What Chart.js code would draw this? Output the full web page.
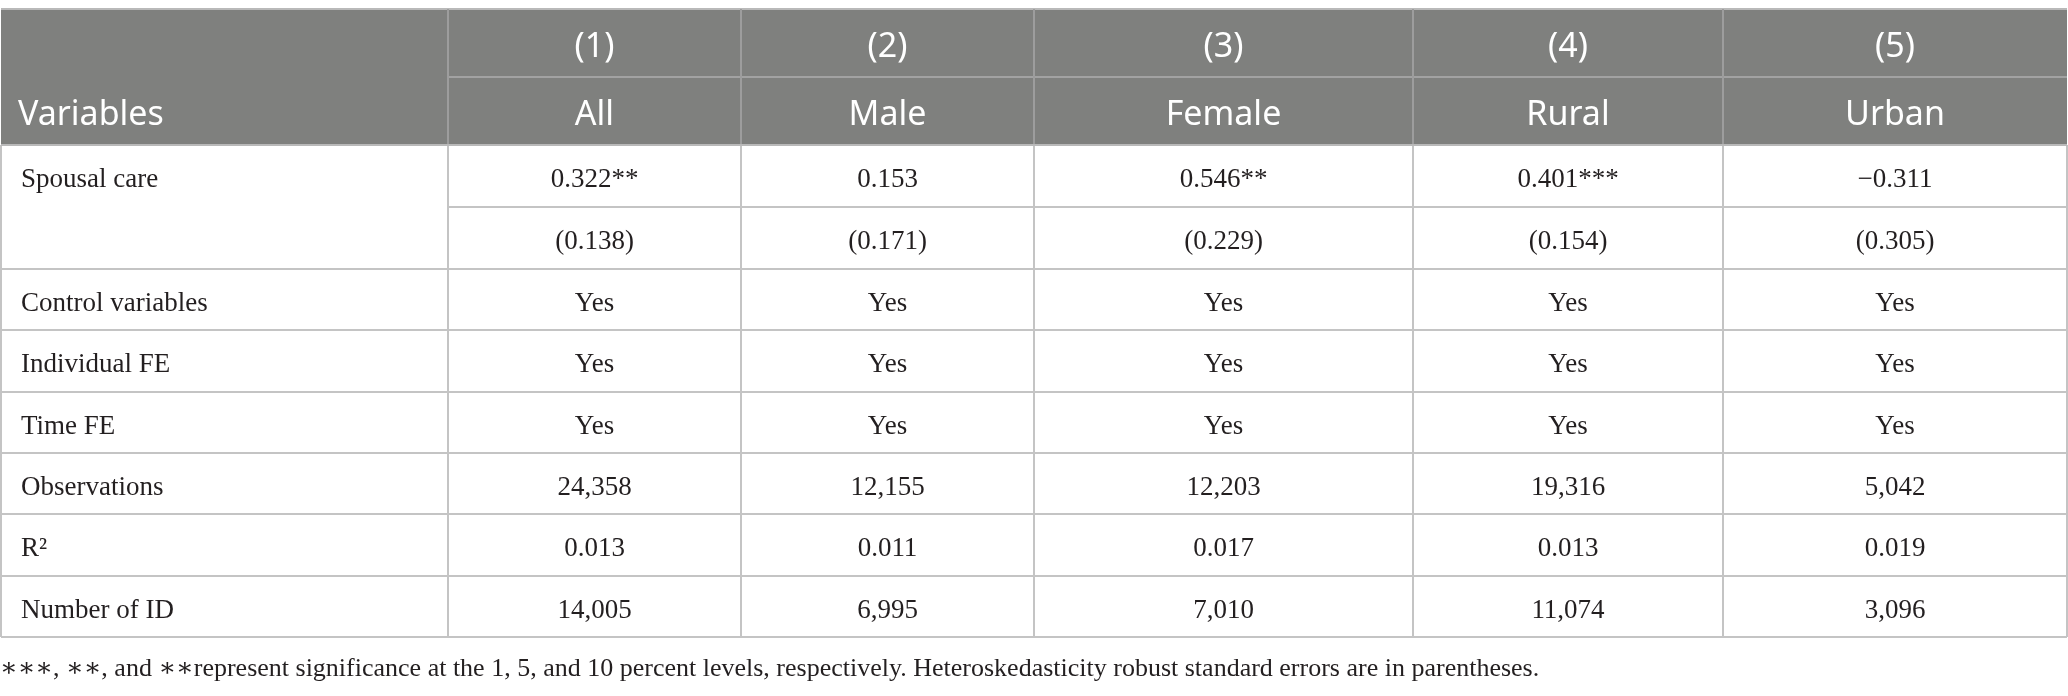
<!DOCTYPE html>
<html>
<head>
<meta charset="utf-8">
<script src="https://cdn.jsdelivr.net/npm/chart.js@4"></script>
<style>
  html, body { margin: 0; padding: 0; background: #fff; }
  #wrap { width: 2068px; height: 696px; position: relative; }
</style>
</head>
<body>
<div id="wrap"><canvas id="tbl"></canvas></div>
<script>
// Table content
const modelNumbers = ["(1)", "(2)", "(3)", "(4)", "(5)"];
const sampleNames = ["All", "Male", "Female", "Rural", "Urban"];
const rowLabels = ["Spousal care", "", "Control variables", "Individual FE", "Time FE", "Observations", "R²", "Number of ID"];
const coefValues = ["0.322**", "0.153", "0.546**", "0.401***", "−0.311"];
const stdErrors = ["(0.138)", "(0.171)", "(0.229)", "(0.154)", "(0.305)"];
const controlVars = ["Yes", "Yes", "Yes", "Yes", "Yes"];
const individualFE = ["Yes", "Yes", "Yes", "Yes", "Yes"];
const timeFE = ["Yes", "Yes", "Yes", "Yes", "Yes"];
const observations = ["24,358", "12,155", "12,203", "19,316", "5,042"];
const rSquared = ["0.013", "0.011", "0.017", "0.013", "0.019"];
const numberOfID = ["14,005", "6,995", "7,010", "11,074", "3,096"];
const footnote = "∗∗∗, ∗∗, and ∗∗represent significance at the 1, 5, and 10 percent levels, respectively. Heteroskedasticity robust standard errors are in parentheses.";

// Layout (scale units)
const colEdges = [1, 448, 741, 1034, 1413, 1723, 2067];
const rowEdges = [9, 77, 145, 207, 269, 330, 392, 453, 514, 576, 637];
const bodyRows = [coefValues, stdErrors, controlVars, individualFE, timeFE, observations, rSquared, numberOfID];

const colMid = i => (colEdges[i] + colEdges[i + 1]) / 2;
const rowMid = r => (rowEdges[r] + rowEdges[r + 1]) / 2;

const SERIF = '"Liberation Serif", "DejaVu Serif", serif';
const SANS = '"Noto Sans", "Open Sans", sans-serif';

// one dataset per body row, points at the cell centres
const datasets = bodyRows.map((vals, k) => ({
    data: vals.map((v, i) => ({ x: colMid(i + 1), y: rowMid(k + 2) })),
    texts: vals,
    pointRadius: 0,
    showLine: false
}));

function hLine(ctx, sx, sy, x0, x1, y, color, w) {
    ctx.strokeStyle = color;
    ctx.lineWidth = w;
    ctx.beginPath();
    ctx.moveTo(sx.getPixelForValue(x0), sy.getPixelForValue(y));
    ctx.lineTo(sx.getPixelForValue(x1), sy.getPixelForValue(y));
    ctx.stroke();
}

function vLine(ctx, sx, sy, x, y0, y1, color, w) {
    ctx.strokeStyle = color;
    ctx.lineWidth = w;
    ctx.beginPath();
    ctx.moveTo(sx.getPixelForValue(x), sy.getPixelForValue(y0));
    ctx.lineTo(sx.getPixelForValue(x), sy.getPixelForValue(y1));
    ctx.stroke();
}

const tablePlugin = {
    id: "tablePlugin",
    beforeDatasetsDraw(chart) {
        const { ctx, scales: { x, y } } = chart;
        ctx.save();
        // header background
        const hx0 = x.getPixelForValue(colEdges[0]), hx1 = x.getPixelForValue(colEdges[6]);
        const hy0 = y.getPixelForValue(rowEdges[0]), hy1 = y.getPixelForValue(rowEdges[2]);
        ctx.fillStyle = "#7f807e";
        ctx.fillRect(hx0, hy0, hx1 - hx0, hy1 - hy0);

        // header lines
        hLine(ctx, x, y, colEdges[0], colEdges[6], rowEdges[0], "#b9b9b9", 2);
        hLine(ctx, x, y, colEdges[1], colEdges[6], rowEdges[1], "#a2a2a2", 2);
        for (let i = 1; i < 6; i++) vLine(ctx, x, y, colEdges[i], rowEdges[0], rowEdges[2], "#9d9d9d", 2);

        // body lines
        hLine(ctx, x, y, colEdges[1], colEdges[6], rowEdges[3], "#c4c4c4", 2);
        for (let r = 4; r < rowEdges.length; r++) hLine(ctx, x, y, colEdges[0], colEdges[6], rowEdges[r], "#c4c4c4", 2);
        for (let i = 0; i < colEdges.length; i++) vLine(ctx, x, y, colEdges[i], rowEdges[2], rowEdges[10], "#c4c4c4", 2);
        hLine(ctx, x, y, colEdges[0], colEdges[6], rowEdges[2], "#b9b9b9", 2);

        // header text
        ctx.fillStyle = "#ffffff";
        ctx.font = "34px " + SANS;
        ctx.textBaseline = "alphabetic";
        ctx.textAlign = "center";
        modelNumbers.forEach((t, i) => ctx.fillText(t, x.getPixelForValue(colMid(i + 1)), y.getPixelForValue(rowMid(0) + 14)));
        sampleNames.forEach((t, i) => ctx.fillText(t, x.getPixelForValue(colMid(i + 1)), y.getPixelForValue(rowMid(1) + 14)));
        ctx.textAlign = "left";
        ctx.fillText("Variables", x.getPixelForValue(18), y.getPixelForValue(rowMid(1) + 14));

        // row labels
        ctx.fillStyle = "#231f20";
        ctx.font = "27px " + SERIF;
        rowLabels.forEach((t, k) => {
            if (t) ctx.fillText(t, x.getPixelForValue(21), y.getPixelForValue(rowMid(k + 2) + 11));
        });

        // footnote
        ctx.font = "26px " + SERIF;
        ctx.fillText(footnote, x.getPixelForValue(0), y.getPixelForValue(676));
        ctx.restore();
    },
    afterDatasetsDraw(chart) {
        const { ctx } = chart;
        ctx.save();
        ctx.fillStyle = "#231f20";
        ctx.font = "27px " + SERIF;
        ctx.textAlign = "center";
        ctx.textBaseline = "alphabetic";
        chart.data.datasets.forEach((ds, di) => {
            const meta = chart.getDatasetMeta(di);
            meta.data.forEach((pt, i) => ctx.fillText(ds.texts[i], pt.x, pt.y + 11));
        });
        ctx.restore();
    }
};

new Chart(document.getElementById("tbl"), {
    type: "scatter",
    data: { datasets },
    options: {
        responsive: true,
        maintainAspectRatio: false,
        animation: false,
        events: [],
        layout: { padding: 0 },
        plugins: { legend: { display: false }, tooltip: { enabled: false } },
        scales: {
            x: { type: "linear", min: 0, max: 2068, display: false },
            y: { type: "linear", min: 0, max: 696, reverse: true, display: false }
        }
    },
    plugins: [tablePlugin]
});
</script>
</body>
</html>
